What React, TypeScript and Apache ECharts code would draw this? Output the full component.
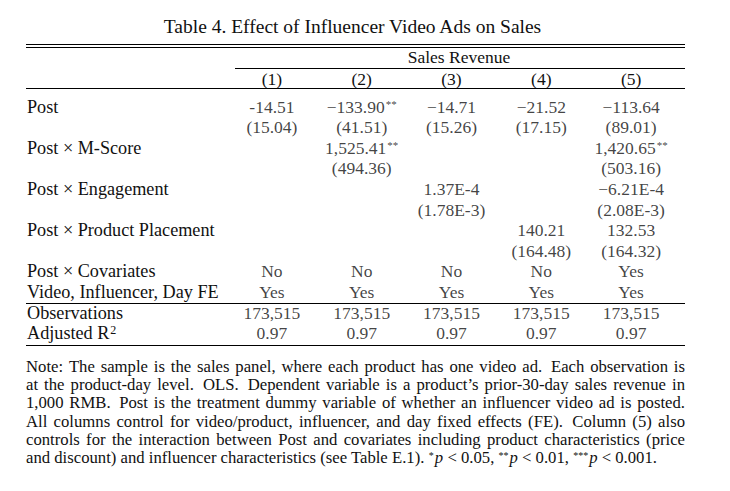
import React, { useEffect, useRef } from "react";
import * as echarts from "echarts";

// ---------- data ----------
const title = "Table 4. Effect of Influencer Video Ads on Sales";
const spannerLabel = "Sales Revenue";
const columnLabels = ["(1)", "(2)", "(3)", "(4)", "(5)"];
const rowKeys = ["post", "postSe", "mscore", "mscoreSe", "eng", "engSe", "pp", "ppSe", "cov", "fe", "obs", "r2"];
const rowLabels = [
  "Post", "", "Post × M-Score", "", "Post × Engagement", "", "Post × Product Placement", "",
  "Post × Covariates", "Video, Influencer, Day FE", "Observations", "Adjusted R{sup|2}",
];
const postCoef = ["-14.51", "−133.90**", "−14.71", "−21.52", "−113.64"];
const postSE = ["(15.04)", "(41.51)", "(15.26)", "(17.15)", "(89.01)"];
const mscoreCoef = ["", "1,525.41**", "", "", "1,420.65**"];
const mscoreSE = ["", "(494.36)", "", "", "(503.16)"];
const engagementCoef = ["", "", "1.37E-4", "", "−6.21E-4"];
const engagementSE = ["", "", "(1.78E-3)", "", "(2.08E-3)"];
const placementCoef = ["", "", "", "140.21", "132.53"];
const placementSE = ["", "", "", "(164.48)", "(164.32)"];
const covariates = ["No", "No", "No", "No", "Yes"];
const fixedEffects = ["Yes", "Yes", "Yes", "Yes", "Yes"];
const observations = ["173,515", "173,515", "173,515", "173,515", "173,515"];
const adjR2 = ["0.97", "0.97", "0.97", "0.97", "0.97"];
const cellRows = [
  postCoef, postSE, mscoreCoef, mscoreSE, engagementCoef, engagementSE,
  placementCoef, placementSE, covariates, fixedEffects, observations, adjR2,
];
const noteLines = [
  "Note: The sample is the sales panel, where each product has one video ad. Each observation is",
  "at the product-day level. OLS. Dependent variable is a product’s prior-30-day sales revenue in",
  "1,000 RMB. Post is the treatment dummy variable of whether an influencer video ad is posted.",
  "All columns control for video/product, influencer, and day fixed effects (FE). Column (5) also",
  "controls for the interaction between Post and covariates including product characteristics (price",
];
const noteTail = "and discount) and influencer characteristics (see Table E.1). ";
const sigStars = ["*", "**", "***"];
const sigLevels = ["0.05", "0.01", "0.001"];

// ---------- style ----------
const FONT = '"Liberation Serif", "Times New Roman", serif';
const TABLE_SIZE = 17.5;
const ROW_LABEL_SIZE = 18.2;
const TITLE_SIZE = 19.5;
const NOTE_SIZE = 16.7;
const INK = "#111";
const L = 26;
const R = 685;

export default function App() {
  const ref = useRef<HTMLDivElement>(null);
  useEffect(() => {
    const el = ref.current!;
    const chart = echarts.init(el, null, { renderer: "svg" });

    const canvas = document.createElement("canvas");
    const ctx = canvas.getContext("2d")!;
    ctx.font = `${NOTE_SIZE}px ${FONT}`;

    const graphics: any[] = [];
    const hline = (x1: number, x2: number, y: number) =>
      graphics.push({ type: "line", silent: true, shape: { x1, y1: y, x2, y2: y }, style: { stroke: "#000", lineWidth: 1 } });
    hline(L, R, 44.5);
    hline(L, R, 47.5);
    hline(235, R, 68.5);
    hline(L, R, 88.5);
    hline(L, R, 303.5);
    hline(L, R, 345.5);

    graphics.push({
      type: "text", silent: true, x: (L + R) / 2 - 3, y: 26,
      style: { text: title, fontSize: TITLE_SIZE, fontFamily: FONT, fill: INK, align: "center", verticalAlign: "middle", textAlign: "center", textVerticalAlign: "middle" },
    });
    graphics.push({
      type: "text", silent: true, x: 459, y: 57,
      style: { text: spannerLabel, fontSize: TABLE_SIZE, fontFamily: FONT, fill: INK, align: "center", verticalAlign: "middle", textAlign: "center", textVerticalAlign: "middle" },
    });

    // justified note lines
    const noteTop = 366;
    const noteStep = 18.35;
    const noteWidth = R - L;
    noteLines.forEach((line, li) => {
      const words = line.split(" ");
      const widths = words.map((w) => ctx.measureText(w).width);
      const total = widths.reduce((a, b) => a + b, 0);
      const weights = words.slice(0, -1).map((w) => (/[a-z)]\.$/i.test(w) ? 1.5 : 1));
      const wsum = weights.reduce((a, b) => a + b, 0);
      const unit = (noteWidth - total) / wsum;
      let x = L;
      words.forEach((w, i) => {
        graphics.push({
          type: "text", silent: true, x, y: noteTop + li * noteStep,
          style: { text: w, fontSize: NOTE_SIZE, fontFamily: FONT, fill: INK, align: "left", verticalAlign: "middle", textAlign: "left", textVerticalAlign: "middle" },
        });
        x += widths[i] + (i < weights.length ? weights[i] * unit : 0);
      });
    });
    const lastLine = noteTail + sigStars.map((s, i) => `{s|${s}}{i|p} < ${sigLevels[i]}`).join(", ") + ".";
    graphics.push({
      type: "text", silent: true, x: L, y: noteTop + 5 * noteStep,
      style: {
        text: lastLine, fontSize: NOTE_SIZE, fontFamily: FONT, fill: INK, align: "left", verticalAlign: "middle", textAlign: "left", textVerticalAlign: "middle",
        rich: {
          s: { fontSize: 10, fontFamily: FONT, fill: INK, verticalAlign: "top", padding: [1, 1, 0, 0] },
          i: { fontSize: NOTE_SIZE, fontFamily: FONT, fontStyle: "italic", fill: INK },
        },
      },
    });

    const cellData: any[] = [];
    cellRows.forEach((row, r) =>
      row.forEach((t, c) => {
        if (t) cellData.push([columnLabels[c], rowKeys[r], t]);
      })
    );
    const fmt = (t: string) => {
      const m = t.match(/^(.*?)(\*+)$/);
      return m ? `${m[1]}{s|${m[2]}}` : t;
    };

    const option: any = {
      animation: false,
      backgroundColor: "#fff",
      grid: { left: 227, width: 449, top: 96.2, height: 247.2 },
      xAxis: {
        type: "category", data: columnLabels, position: "top",
        axisLine: { show: false }, axisTick: { show: false }, splitLine: { show: false },
        axisLabel: { show: true, interval: 0, margin: 8, fontSize: TABLE_SIZE, fontFamily: FONT, color: INK },
      },
      yAxis: {
        type: "category", data: rowKeys, inverse: true,
        axisLine: { show: false }, axisTick: { show: false }, splitLine: { show: false },
        axisLabel: {
          show: true, interval: 0, hideOverlap: false, align: "left", margin: 200, fontSize: ROW_LABEL_SIZE, fontFamily: FONT, color: INK,
          formatter: (_v: string, i: number) => rowLabels[i],
          rich: { sup: { fontSize: 12, fontFamily: FONT, color: INK, verticalAlign: "top", padding: [0, 0, 0, 1] } },
        },
      },
      series: [
        {
          type: "scatter", silent: true, symbolSize: 1, itemStyle: { color: "transparent" },
          data: cellData,
          label: {
            show: true, position: "inside", fontSize: TABLE_SIZE, fontFamily: FONT, color: INK,
            formatter: (p: any) => fmt(p.value[2]),
            rich: { s: { fontSize: 11, fontFamily: FONT, color: INK, verticalAlign: "top", padding: [1, 0, 0, 1] } },
          },
        },
      ],
      graphic: graphics,
    };
    chart.setOption(option);
    return () => chart.dispose();
  }, []);
  return <div ref={ref} style={{ position: "fixed", left: 0, top: 0, width: 730, height: 491, background: "#fff" }} />;
}
